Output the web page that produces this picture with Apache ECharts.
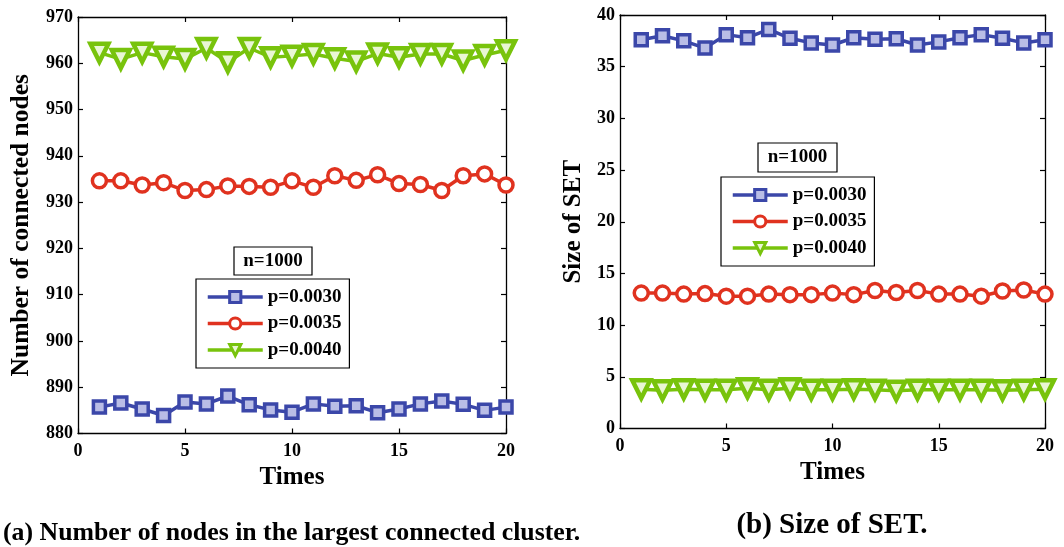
<!DOCTYPE html>
<html><head><meta charset="utf-8">
<script src="https://cdn.jsdelivr.net/npm/echarts@6/dist/echarts.min.js"></script>
<style>html,body{margin:0;padding:0;background:#fff}#c{width:1064px;height:547px}</style>
</head><body><div id="c"></div>
<script>
const times = [1,2,3,4,5,6,7,8,9,10,11,12,13,14,15,16,17,18,19,20];
const seriesNames = ['p=0.0030','p=0.0035','p=0.0040'];
const leftBlue = [885.7,886.6,885.3,883.9,886.8,886.4,888.1,886.2,885.1,884.6,886.4,885.9,886.0,884.5,885.3,886.4,887.0,886.3,885.0,885.7];
const leftRed = [934.6,934.6,933.7,934.2,932.5,932.7,933.5,933.4,933.2,934.6,933.2,935.7,934.7,935.9,934.0,933.8,932.5,935.7,936.1,933.7];
const leftGreen = [962.3,960.9,962.3,961.4,960.9,963.3,960.2,963.3,961.3,961.6,962.0,961.1,960.4,962.1,961.3,962.0,962.0,960.6,961.8,962.8];
const rightBlue = [37.6,38.0,37.5,36.8,38.1,37.8,38.6,37.75,37.3,37.1,37.8,37.65,37.7,37.1,37.4,37.8,38.1,37.75,37.3,37.6];
const rightRed = [13.1,13.1,13.0,13.05,12.8,12.8,13.0,12.95,12.95,13.1,12.95,13.35,13.15,13.35,13.0,13.0,12.8,13.3,13.4,13.0];
const rightGreen = [3.8,3.7,3.8,3.75,3.75,3.9,3.75,3.9,3.75,3.75,3.8,3.75,3.65,3.75,3.75,3.75,3.75,3.7,3.75,3.8];
const xTitle = 'Times';
const yTitleLeft = 'Number of connected nodes';
const yTitleRight = 'Size of SET';
const boxLabel = 'n=1000';
const captionA = '(a) Number of nodes in the largest connected cluster.';
const captionB = '(b) Size of SET.';

const FONT = '"Liberation Serif","Times New Roman",serif';
const colors = ['#3b47a9','#e0321f','#78c30c'];
const fills = ['#b9bde6','#ffffff','#e9f6d4'];
const symbols = ['rect','circle','triangle'];
const symSizes = [12,14,18];
const borderW = [3.5,3.5,4.5];
const rot = [0,0,180];

const pair = arr => arr.map((v,i)=>[times[i],v]);

function axisCommon(extra){
  return Object.assign({
    type:'value',
    axisLine:{show:true,onZero:false,lineStyle:{color:'#000',width:1.3}},
    axisTick:{show:true,inside:true,length:5,lineStyle:{color:'#000',width:1.2}},
    splitLine:{show:false},
    axisLabel:{color:'#000',fontFamily:FONT,fontWeight:'bold',fontSize:18}
  },extra);
}

const grids = [
  {left:78,top:17,width:428,height:416.5},
  {left:620,top:15,width:425,height:413.5}
];
const titleStyle = {color:'#000',fontFamily:FONT,fontWeight:'bold',fontSize:25};

const xAxes = [], yAxes = [];
[0,1].forEach(g=>{
  xAxes.push(axisCommon({gridIndex:g,min:0,max:20,interval:5,position:'bottom',
    name:xTitle,nameLocation:'middle',nameGap:g===0?32:28,
    nameTextStyle:titleStyle,
    axisLabel:{color:'#000',fontFamily:FONT,fontWeight:'bold',fontSize:18,margin:9}}));
  xAxes.push(axisCommon({gridIndex:g,min:0,max:20,interval:5,position:'top',axisLabel:{show:false}}));
});
yAxes.push(axisCommon({gridIndex:0,min:880,max:970,interval:10,position:'left',
  name:yTitleLeft,nameLocation:'middle',nameGap:44,
  nameTextStyle:Object.assign({},titleStyle,{fontSize:25.5}),
  axisLabel:{color:'#000',fontFamily:FONT,fontWeight:'bold',fontSize:18,margin:5}}));
yAxes.push(axisCommon({gridIndex:0,min:880,max:970,interval:10,position:'right',axisLabel:{show:false}}));
yAxes.push(axisCommon({gridIndex:1,min:0,max:40,interval:5,position:'left',
  name:yTitleRight,nameLocation:'middle',nameGap:34,
  nameTextStyle:titleStyle,
  axisLabel:{color:'#000',fontFamily:FONT,fontWeight:'bold',fontSize:18,margin:5}}));
yAxes.push(axisCommon({gridIndex:1,min:0,max:40,interval:5,position:'right',axisLabel:{show:false}}));

const dataSets = [[leftBlue,leftRed,leftGreen],[rightBlue,rightRed,rightGreen]];
const series = [];
dataSets.forEach((set,g)=>{
  set.forEach((arr,k)=>{
    series.push({
      name:seriesNames[k], type:'line', xAxisIndex:g*2, yAxisIndex:g*2,
      data:pair(arr), symbol:symbols[k], symbolSize:symSizes[k], symbolRotate:rot[k],
      showAllSymbol:true, animation:false,
      lineStyle:{color:colors[k],width:3.5},
      itemStyle:{color:fills[k],borderColor:colors[k],borderWidth:borderW[k]},
      emphasis:{disabled:true}
    });
  });
});

function legendAt(left,top){
  return {
    orient:'vertical', left:left, top:top, data:seriesNames,
    itemWidth:55, itemHeight:14, itemGap:6.5,
    padding:[8,8,8,10], borderColor:'#000', borderWidth:1.2, backgroundColor:'#fff',
    lineStyle:{width:3.5},
    itemStyle:{borderWidth:3},
    textStyle:{color:'#000',fontFamily:FONT,fontWeight:'bold',fontSize:19,lineHeight:20},
    selectedMode:false
  };
}

function nBox(x,y,w,h){
  return [
    {type:'rect',shape:{x:x,y:y,width:w,height:h},style:{fill:'#fff',stroke:'#000',lineWidth:1.2},z:100},
    {type:'text',x:x+w/2,y:y+h/2,style:{text:boxLabel,fill:'#000',font:'bold 19px '+FONT,textAlign:'center',textVerticalAlign:'middle'},z:101}
  ];
}

const option = {
  animation:false,
  backgroundColor:'#fff',
  grid:grids,
  xAxis:xAxes,
  yAxis:yAxes,
  series:series,
  legend:[legendAt(196,279),legendAt(721,177)],
  graphic:[].concat(
    nBox(234,247,78,28),
    nBox(758,143,79,29),
    [
      {type:'text',x:3,y:533,style:{text:captionA,fill:'#000',font:'bold 25.8px '+FONT,textVerticalAlign:'middle'}},
      {type:'text',x:832,y:526,style:{text:captionB,fill:'#000',font:'bold 29px '+FONT,textAlign:'center',textVerticalAlign:'middle'}}
    ]
  )
};
const chart = echarts.init(document.getElementById('c'),null,{renderer:'canvas'});
chart.setOption(option);
</script></body></html>
